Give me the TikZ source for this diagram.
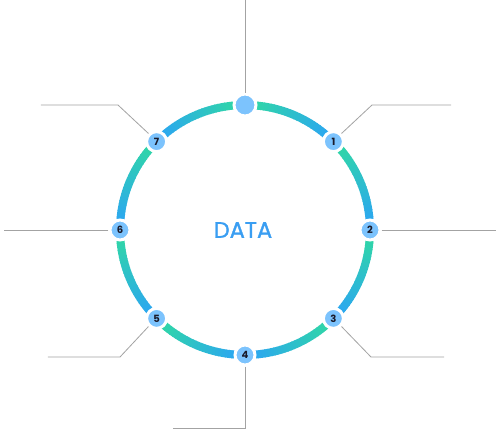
\documentclass[tikz,border=0pt]{standalone}
\usepackage{fontspec}
\setmainfont{Poppins}
\newfontfamily\titlefont[FakeBold=1.3]{Poppins}
\begin{document}
\begin{tikzpicture}[x=1pt,y=1pt,
  lead/.style={draw=leadgray, line width=0.8pt},
  num/.style={circle, fill=nodeblue, draw=white, line width=3pt, minimum size=20pt, inner sep=0pt,
    font=\fontsize{10}{10}\selectfont\bfseries, text=numdark},
  topdot/.style={circle, fill=nodeblue, draw=white, line width=3pt, minimum size=22pt, inner sep=0pt},
  title/.style={font=\titlefont\fontsize{22.5}{22.5}\selectfont, text=titleblue}
]
\definecolor{ringgreen}{HTML}{30DBA0}
\definecolor{ringblue}{HTML}{2BA2F8}
\definecolor{nodeblue}{HTML}{7CC3FD}
\definecolor{numdark}{HTML}{1A1A2A}
\definecolor{leadgray}{HTML}{A3A3A3}
\definecolor{titleblue}{HTML}{3A9EF2}
\useasboundingbox (-245,-199) rectangle (258,230);
\fill[white] (-245,-199) rectangle (258,230);
% gradient ring
\foreach \a/\flip in {-90/0,-45/0,0/0,45/0,90/1,135/1,180/1,225/1}{
  \foreach \i in {0,...,29}{
    \pgfmathsetmacro{\s}{\a+45*\i/30}
    \pgfmathsetmacro{\e}{\a+45*(\i+1)/30+0.4}
    \pgfmathsetmacro{\p}{\flip==0 ? 100*(\i+0.5)/30 : 100-100*(\i+0.5)/30}
    \draw[line width=8pt, color=ringgreen!\p!ringblue] (\s:125) arc[start angle=\s, end angle=\e, radius=125];
  }
}
% nodes
\node[topdot] (n0) at (90:125) {};
\node[num] (n1) at (45:125) {1};
\node[num] (n2) at (0:125) {2};
\node[num] (n3) at (-45:125) {3};
\node[num] (n4) at (-90:125) {4};
\node[num] (n5) at (-135:125) {5};
\node[num] (n6) at (180:125) {6};
\node[num] (n7) at (135:125) {7};
\node[title] (t) at (-2,0) {DATA};
% lead ends
\coordinate (e0) at (0,230);
\coordinate (k1) at (127,125); \coordinate (e1) at (206,125);
\coordinate (e2) at (251,0);
\coordinate (k3) at (126,-127); \coordinate (e3) at (199,-127);
\coordinate (k4) at (0,-198); \coordinate (e4) at (-72,-198);
\coordinate (k5) at (-125,-127); \coordinate (e5) at (-197,-127);
\coordinate (e6) at (-241,0);
\coordinate (k7) at (-127,125); \coordinate (e7) at (-204,125);
\draw[lead] (n0.north) -- (e0);
\draw[lead] (n1.north east) -- (k1) -- (e1);
\draw[lead] (n2.east) -- (e2);
\draw[lead] (n3.south east) -- (k3) -- (e3);
\draw[lead] (n4.south) -- (k4) -- (e4);
\draw[lead] (n5.south west) -- (k5) -- (e5);
\draw[lead] (n6.west) -- (e6);
\draw[lead] (n7.north west) -- (k7) -- (e7);
\end{tikzpicture}
\end{document}
